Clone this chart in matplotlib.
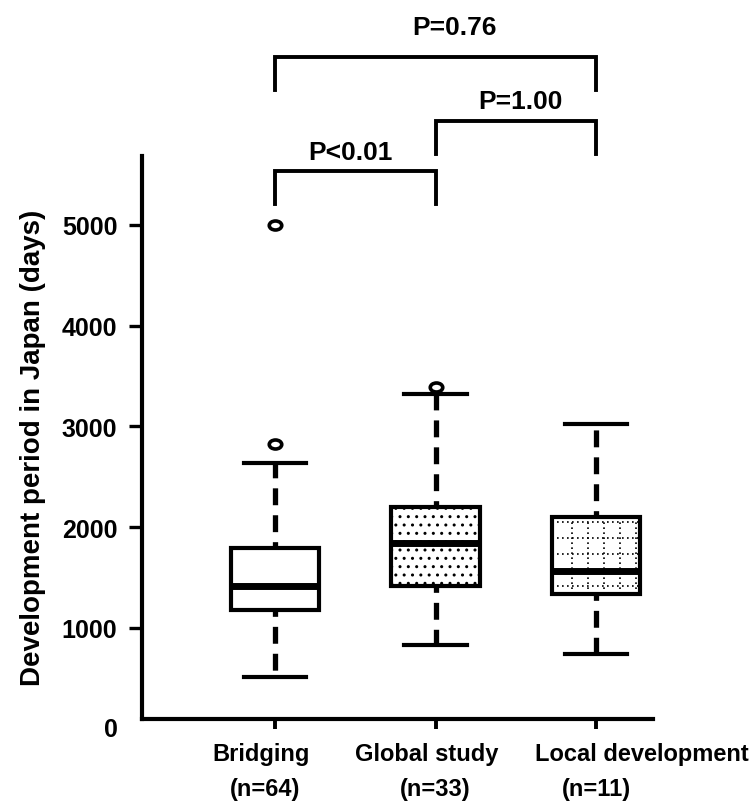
import numpy as np
import matplotlib.pyplot as plt
from matplotlib.path import Path

plt.rcParams['font.family'] = ['Liberation Sans', 'DejaVu Sans']
plt.rcParams['font.weight'] = 'bold'
plt.rcParams['hatch.linewidth'] = 1.0

# ============ DATA ============
groups = ['Bridging', 'Global study', 'Local development']
n_labels = ['(n=64)', '(n=33)', '(n=11)']

# box summaries, days
q1 = [1183, 1414, 1341]
median = [1414, 1840, 1561]
q3 = [1798, 2196, 2105]
whisker_low = [514, 834, 740]
whisker_high = [2633, 3322, 3021]
outliers = [[2825, 5000], [3394], []]

# pairwise tests
pairs = [(0, 1), (1, 2), (0, 2)]
p_labels = ['P<0.01', 'P=1.00', 'P=0.76']
bracket_level = [5533, 6030, 6664]

# ============ LAYOUT ============
positions = [1, 2, 3]
BOX_W = 0.55
CAP_W = 0.39
BRACKET_DROP = 330
P_TEXT_DX = [-0.03, 0.03, 0.12]   # data units
P_TEXT_DY = [5, 6, 13]            # points above bracket
NAME_DX = [-10, -6, 33]           # points
N_DX = [-7.5, 0, 0]
TICK_FS = 18
NAME_FS = 17

fig = plt.figure(figsize=(7.52, 8.04), dpi=100)
ax = fig.add_axes([141.7 / 752, 84 / 804, (653 - 141.7) / 752, 720 / 804])

stats = [dict(med=median[i], q1=q1[i], q3=q3[i],
              whislo=whisker_low[i], whishi=whisker_high[i],
              fliers=outliers[i]) for i in range(len(groups))]

# squashed circle for the outliers
circ = Path.unit_circle()
ellipse = Path(circ.vertices * [1.0, 0.72], circ.codes)

bp = ax.bxp(stats, positions=positions, widths=BOX_W, capwidths=CAP_W,
            patch_artist=True, showfliers=True,
            boxprops=dict(facecolor='white', edgecolor='black', linewidth=3.0),
            medianprops=dict(color='black', linewidth=5.0, solid_capstyle='butt', zorder=4),
            whiskerprops=dict(color='black', linewidth=3.8,
                              linestyle=(2.0, (3.2, 1.9))),
            capprops=dict(color='black', linewidth=3.0),
            flierprops=dict(marker=ellipse, markerfacecolor='white',
                            markeredgecolor='black', markersize=9,
                            markeredgewidth=2.6))

# fill patterns: plain, dots, dotted grid
bp['boxes'][1].set_hatch('..')

xl = positions[2] - BOX_W / 2
xr = positions[2] + BOX_W / 2
for gx in np.arange(xl + 0.125, xr - 0.02, 0.1):
    ax.plot([gx, gx], [q1[2], q3[2]], color='black', lw=1.2,
            ls=(0, (1, 2)), zorder=2.5)
for gy in np.arange(q3[2] - 50, q1[2], -160):
    ax.plot([xl, xr], [gy, gy], color='black', lw=1.2,
            ls=(0, (1, 2)), zorder=2.5)

# significance brackets
for (a, b), lab, lvl, dx, dy in zip(pairs, p_labels, bracket_level, P_TEXT_DX, P_TEXT_DY):
    xa, xb = positions[a], positions[b]
    ax.plot([xa, xa, xb, xb], [lvl - BRACKET_DROP, lvl, lvl, lvl - BRACKET_DROP],
            color='black', lw=2.8, clip_on=False, solid_joinstyle='miter')
    ax.annotate(lab, xy=((xa + xb) / 2 + dx, lvl), xytext=(0, dy),
                textcoords='offset points', ha='center', va='bottom',
                fontsize=19, fontweight='bold', annotation_clip=False)

# axes styling
ax.set_xlim(0.1695, 3.355)
ax.set_ylim(97, 7240)
ax.spines['top'].set_visible(False)
ax.spines['right'].set_visible(False)
ax.spines['left'].set_bounds(97, 5683)
ax.spines['left'].set_linewidth(3)
ax.spines['bottom'].set_linewidth(3)

ax.set_yticks([1000, 2000, 3000, 4000, 5000])
ax.tick_params(axis='y', length=9.5, width=2.4, labelsize=TICK_FS, pad=8)
ax.set_xticks(positions, labels=[''] * len(positions))
ax.tick_params(axis='x', length=7, width=2.8)

ax.annotate('0', xy=(0, 0), xycoords=('axes fraction', 'data'),
            xytext=(-17.5, 0), textcoords='offset points',
            ha='right', va='center', fontsize=TICK_FS, fontweight='bold',
            annotation_clip=False)

for i, pos in enumerate(positions):
    ax.annotate(groups[i], xy=(pos, 0), xycoords=('data', 'axes fraction'),
                xytext=(NAME_DX[i], -25), textcoords='offset points',
                ha='center', va='center', fontsize=NAME_FS, fontweight='bold',
                annotation_clip=False)
    ax.annotate(n_labels[i], xy=(pos, 0), xycoords=('data', 'axes fraction'),
                xytext=(N_DX[i], -50), textcoords='offset points',
                ha='center', va='center', fontsize=NAME_FS, fontweight='bold',
                annotation_clip=False)

fig.text(33 / 752, 1 - 448 / 804, 'Development period in Japan (days)',
         rotation=90, ha='center', va='center', fontsize=20, fontweight='bold')

fig.savefig('out.png', dpi=100)
